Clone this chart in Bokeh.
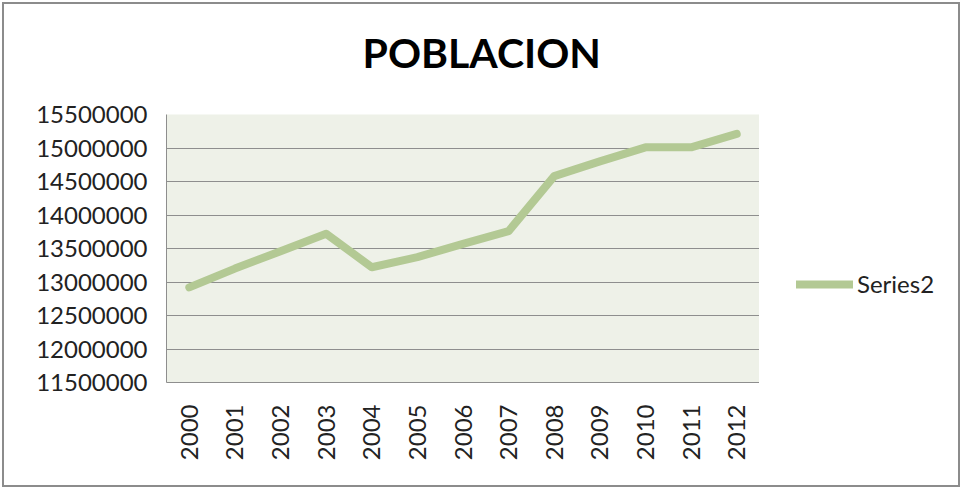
import math
from bokeh.plotting import figure
from bokeh.layouts import row
from bokeh.models import (FactorRange, Range1d, FixedTicker, NumeralTickFormatter, Legend,
                          LegendItem, Title)
from bokeh.embed import file_html
from bokeh.resources import INLINE

years = ["2000", "2001", "2002", "2003", "2004", "2005", "2006",
         "2007", "2008", "2009", "2010", "2011", "2012"]
population = [12920000, 13200000, 13460000, 13720000, 13220000, 13370000, 13570000,
              13760000, 14580000, 14800000, 15010000, 15010000, 15210000]
y_ticks = [11500000, 12000000, 12500000, 13000000, 13500000, 14000000,
           14500000, 15000000, 15500000]
series_name = "Series2"
chart_title = "POBLACION"

FONT = "Lato"
LINE_COLOR = "#b3c994"
GRID_COLOR = "#8e8e8e"
LINE_STYLE = dict(line_color=LINE_COLOR, line_width=8, line_join="round", line_cap="round")

p = figure(width=755, height=481, output_backend="svg", toolbar_location=None,
           x_range=FactorRange(*years), y_range=Range1d(11500000, 15500000),
           title=None)
p.min_border_left = 162
p.min_border_right = 0
p.min_border_top = 110
p.min_border_bottom = 103
p.border_fill_color = "#ffffff"
p.outline_line_color = None
p.background_fill_color = "#eef1e8"

# spacer between the frame and the title (nearest to the frame)
p.add_layout(Title(text=" ", text_font_size="1px", standoff=10), "above")
# the chart title
p.add_layout(Title(text=chart_title, align="left", vertical_align="top",
                   text_font=FONT, text_font_style="bold", text_font_size="41px",
                   text_color="#000000", offset=196, standoff=46), "above")

r = p.line(years, population, **LINE_STYLE)

# axes
p.yaxis.ticker = FixedTicker(ticks=y_ticks)
p.yaxis.formatter = NumeralTickFormatter(format="0")
for ax in (p.xaxis[0], p.yaxis[0]):
    ax.axis_line_color = GRID_COLOR
    ax.axis_line_width = 1
    ax.major_tick_line_color = None
    ax.minor_tick_line_color = None
    ax.major_label_text_font = FONT
    ax.major_label_text_font_size = "24px"
    ax.major_label_text_color = "#222222"
p.yaxis.major_label_standoff = 13
p.xaxis.major_label_standoff = 16
p.xaxis.major_label_orientation = math.pi / 2

p.xgrid.grid_line_color = None
p.ygrid.grid_line_color = GRID_COLOR
p.ygrid.grid_line_width = 1
p.ygrid.ticker = FixedTicker(ticks=y_ticks)

# legend area (separate panel to the right of the plot, frames aligned)
lf = figure(width=199, height=481, output_backend="svg", toolbar_location=None,
            x_range=Range1d(0, 1), y_range=Range1d(0, 1))
lf.min_border = 0
lf.axis.visible = False
lf.grid.visible = False
lf.outline_line_color = None
lf.background_fill_color = "#ffffff"
lf.border_fill_color = "#ffffff"
lr = lf.line(x=[0.5, 0.5], y=[float("nan"), float("nan")], **LINE_STYLE)

legend = Legend(items=[LegendItem(label=series_name, renderers=[lr])],
                location=(37, 84), padding=0, spacing=0, margin=0,
                label_standoff=4, glyph_width=57, glyph_height=22, label_height=22,
                label_text_font=FONT, label_text_font_size="24px",
                label_text_color="#222222",
                background_fill_alpha=0, border_line_color=None)
lf.add_layout(legend)

layout = row(p, lf, styles={"border": "2px solid #8c8c8c", "margin-left": "2px",
                            "margin-top": "2px"})

open("out.html", "w").write(file_html(layout, INLINE))
